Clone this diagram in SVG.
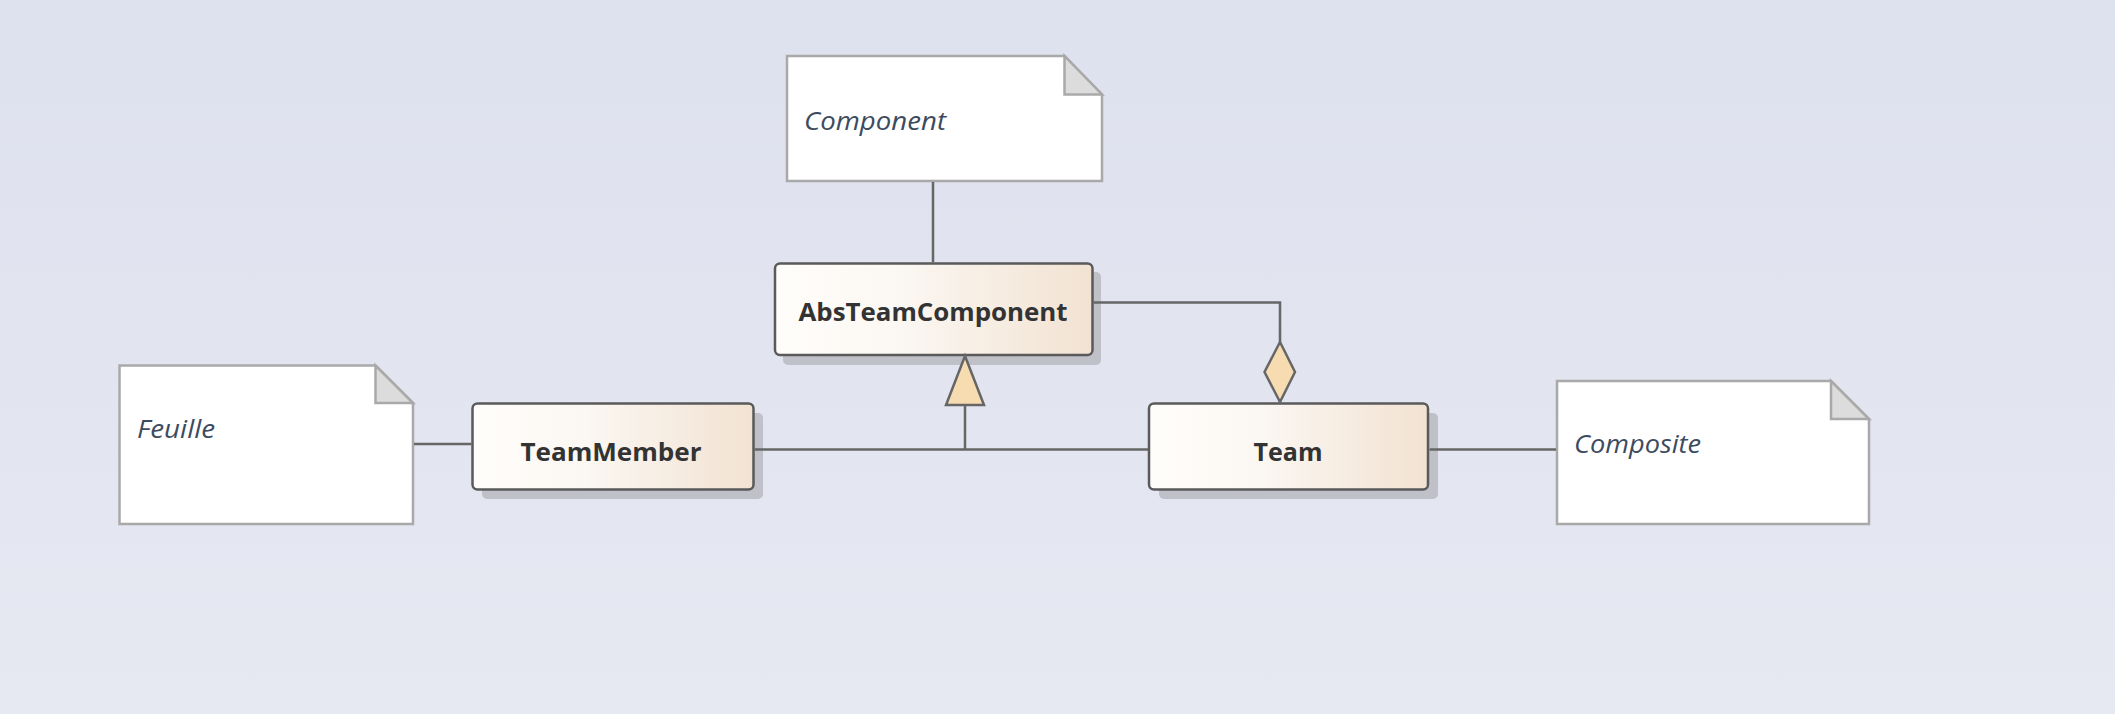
<svg xmlns="http://www.w3.org/2000/svg" width="2115" height="714" viewBox="0 0 2115 714">
<defs>
<linearGradient id="bg" x1="0" y1="0" x2="0" y2="1">
<stop offset="0" stop-color="#dee1ee"/>
<stop offset="1" stop-color="#e6e8f2"/>
</linearGradient>
<linearGradient id="cls" x1="0" y1="0" x2="1" y2="0">
<stop offset="0" stop-color="#fffdfb"/>
<stop offset="0.4" stop-color="#fbf7f2"/>
<stop offset="1" stop-color="#f2e2d2"/>
</linearGradient>
<style>
.shadow{fill:#bfc0c8}
.cls{fill:url(#cls);stroke:#5a5a5a;stroke-width:2.5}
.ctext{font-family:"Open Sans","Noto Sans","DejaVu Sans",sans-serif;font-weight:bold;font-size:25px;fill:#333333;text-anchor:middle}
.note{fill:#ffffff;stroke:#a9a9a9;stroke-width:2.5}
.fold{fill:#dcdcdc;stroke:#a9a9a9;stroke-width:2.5;stroke-linejoin:miter}
.ntext{font-family:"Open Sans","Noto Sans","DejaVu Sans",sans-serif;font-style:italic;font-size:26px;fill:#3d4b5e}
.ln{fill:none;stroke:#666666;stroke-width:2.5}
.head{fill:#f7dcb2;stroke:#666666;stroke-width:2.5;stroke-linejoin:miter}
</style>
</defs>
<rect x="0" y="0" width="2115" height="714" fill="url(#bg)"/>

<g id="note-component">
<path class="note" d="M787,56 L1064.5,56 L1102,94.5 L1102,181 L787,181 Z"/>
<path class="fold" d="M1064.5,56 L1064.5,94.5 L1102,94.5 Z"/>
<text class="ntext" x="804" y="130" textLength="142" lengthAdjust="spacingAndGlyphs">Component</text>
</g>

<g id="AbsTeamComponent">
<rect class="shadow" x="783" y="272" width="318" height="93" rx="5"/>
<rect class="cls" x="775" y="263.5" width="317.5" height="91.5" rx="5"/>
<text class="ctext" x="933" y="321" textLength="269" lengthAdjust="spacingAndGlyphs">AbsTeamComponent</text>
</g>

<g id="TeamMember">
<rect class="shadow" x="482" y="413" width="281" height="86" rx="5"/>
<rect class="cls" x="472.5" y="403.5" width="281" height="86" rx="5"/>
<text class="ctext" x="611" y="460.5" textLength="181" lengthAdjust="spacingAndGlyphs">TeamMember</text>
</g>

<g id="Team">
<rect class="shadow" x="1159" y="413" width="279" height="86" rx="5"/>
<rect class="cls" x="1149" y="403.5" width="279" height="86" rx="5"/>
<text class="ctext" x="1288" y="460.5" textLength="69" lengthAdjust="spacingAndGlyphs">Team</text>
</g>

<g id="note-feuille">
<path class="note" d="M119.5,365.5 L375.5,365.5 L413,403 L413,524 L119.5,524 Z"/>
<path class="fold" d="M375.5,365.5 L375.5,403 L413,403 Z"/>
<text class="ntext" x="137" y="438" textLength="78" lengthAdjust="spacingAndGlyphs">Feuille</text>
</g>

<g id="note-composite">
<path class="note" d="M1557,381 L1831,381 L1869,419 L1869,524 L1557,524 Z"/>
<path class="fold" d="M1831,381 L1831,419 L1869,419 Z"/>
<text class="ntext" x="1574" y="453" textLength="127" lengthAdjust="spacingAndGlyphs">Composite</text>
</g>

<g id="connectors">
<line class="ln" x1="933" y1="182" x2="933" y2="262.5"/>
<polyline class="ln" points="1093.5,302.5 1280,302.5 1280,342"/>
<line class="ln" x1="754.5" y1="449.5" x2="1148" y2="449.5"/>
<line class="ln" x1="965" y1="405" x2="965" y2="449.5"/>
<line class="ln" x1="414" y1="444" x2="471.5" y2="444"/>
<line class="ln" x1="1429.5" y1="449.5" x2="1556" y2="449.5"/>
<polygon class="head" points="965,356 984,405 946,405"/>
<polygon class="head" points="1280,342 1295,372 1280,402 1264.5,372"/>
</g>
</svg>
